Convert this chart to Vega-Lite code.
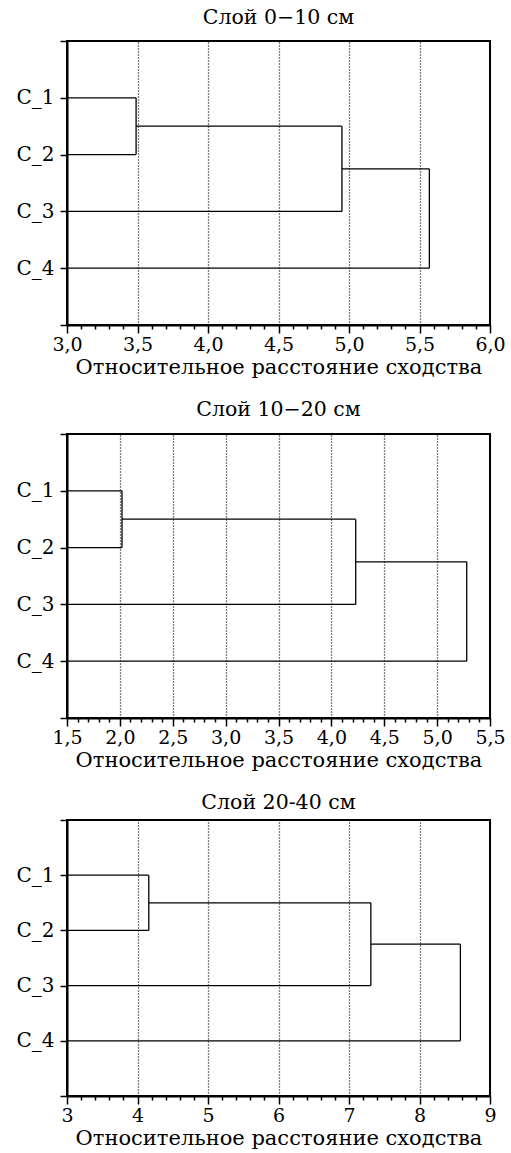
{
  "$schema": "https://vega.github.io/schema/vega-lite/v6.json",
  "padding": {"left": 14, "top": 6, "right": 0, "bottom": 0},
  "background": "white",
  "spacing": 20,
  "config": {
    "font": "DejaVu Serif",
    "view": {"stroke": "black", "strokeWidth": 2},
    "title": {"fontSize": 20.5, "fontWeight": "normal", "color": "black", "offset": 11, "font": "DejaVu Serif"},
    "axis": {
      "labelFont": "DejaVu Serif", "titleFont": "DejaVu Serif",
      "labelFontSize": 19, "titleFontSize": 21, "titleFontWeight": "normal",
      "labelColor": "black", "titleColor": "black",
      "tickColor": "black", "domainColor": "black", "domainWidth": 2, "tickWidth": 1.5
    },
    "axisY": {"labelFontSize": 20}
  },
  "vconcat": [
    {
      "title": {"text": "Слой 0−10 см", "offset": 12},
      "width": 423, "height": 284,
      "data": {"values": [
        {"x": 3, "x2": 3.49, "y": 1, "y2": 1},
        {"x": 3, "x2": 3.49, "y": 2, "y2": 2},
        {"x": 3.49, "x2": 3.49, "y": 1, "y2": 2},
        {"x": 3.49, "x2": 4.95, "y": 1.5, "y2": 1.5},
        {"x": 3, "x2": 4.95, "y": 3, "y2": 3},
        {"x": 4.95, "x2": 4.95, "y": 1.5, "y2": 3},
        {"x": 4.95, "x2": 5.57, "y": 2.25, "y2": 2.25},
        {"x": 3, "x2": 5.57, "y": 4, "y2": 4},
        {"x": 5.57, "x2": 5.57, "y": 2.25, "y2": 4}
      ]},
      "layer": [
        {
          "mark": {"type": "rule", "opacity": 0},
          "encoding": {
            "x": {"field": "x", "type": "quantitative",
              "scale": {"domain": [3, 6], "nice": false, "zero": false},
              "axis": {"values": [3.1, 3.2, 3.3, 3.4, 3.6, 3.7, 3.8, 3.9, 4.1, 4.2, 4.3, 4.4, 4.6, 4.7, 4.8, 4.9, 5.1, 5.2, 5.3, 5.4, 5.6, 5.7, 5.8, 5.9],
                "labels": false, "domain": false, "grid": false, "tickSize": 4, "title": null, "orient": "bottom"}}
          }
        },
        {
          "mark": {"type": "rule", "color": "black", "strokeWidth": 1.3},
          "encoding": {
            "x": {"field": "x", "type": "quantitative",
              "scale": {"domain": [3, 6], "nice": false, "zero": false},
              "axis": {"values": [3, 3.5, 4, 4.5, 5, 5.5, 6], "labelExpr": "replace(format(datum.value, '.1f'), '.', ',')",
                "grid": true, "gridColor": "black", "gridDash": [1, 2], "gridWidth": 1.3, "gridOpacity": 1,
                "tickSize": 8, "labelPadding": 2, "titlePadding": 2, "title": "Относительное расстояние сходства", "orient": "bottom", "labelFlush": false}},
            "x2": {"field": "x2"},
            "y": {"field": "y", "type": "quantitative",
              "scale": {"domain": [0, 5], "reverse": true, "nice": false, "zero": false},
              "axis": {"values": [0, 1, 2, 3, 4, 5], "labelExpr": "datum.value >= 1 && datum.value <= 4 ? 'C_' + datum.value : ''",
                "grid": false, "tickSize": 7, "labelPadding": 6, "title": null}},
            "y2": {"field": "y2"}
          }
        }
      ],
      "resolve": {"scale": {"x": "independent"}, "axis": {"x": "independent"}}
    },
    {
      "title": {"text": "Слой 10−20 см", "offset": 13},
      "width": 423, "height": 284,
      "data": {"values": [
        {"x": 1.5, "x2": 2.02, "y": 1, "y2": 1},
        {"x": 1.5, "x2": 2.02, "y": 2, "y2": 2},
        {"x": 2.02, "x2": 2.02, "y": 1, "y2": 2},
        {"x": 2.02, "x2": 4.23, "y": 1.5, "y2": 1.5},
        {"x": 1.5, "x2": 4.23, "y": 3, "y2": 3},
        {"x": 4.23, "x2": 4.23, "y": 1.5, "y2": 3},
        {"x": 4.23, "x2": 5.28, "y": 2.25, "y2": 2.25},
        {"x": 1.5, "x2": 5.28, "y": 4, "y2": 4},
        {"x": 5.28, "x2": 5.28, "y": 2.25, "y2": 4}
      ]},
      "layer": [
        {
          "mark": {"type": "rule", "opacity": 0},
          "encoding": {
            "x": {"field": "x", "type": "quantitative",
              "scale": {"domain": [1.5, 5.5], "nice": false, "zero": false},
              "axis": {"values": [1.6, 1.7, 1.8, 1.9, 2.1, 2.2, 2.3, 2.4, 2.6, 2.7, 2.8, 2.9, 3.1, 3.2, 3.3, 3.4, 3.6, 3.7, 3.8, 3.9, 4.1, 4.2, 4.3, 4.4, 4.6, 4.7, 4.8, 4.9, 5.1, 5.2, 5.3, 5.4],
                "labels": false, "domain": false, "grid": false, "tickSize": 4, "title": null, "orient": "bottom"}}
          }
        },
        {
          "mark": {"type": "rule", "color": "black", "strokeWidth": 1.3},
          "encoding": {
            "x": {"field": "x", "type": "quantitative",
              "scale": {"domain": [1.5, 5.5], "nice": false, "zero": false},
              "axis": {"values": [1.5, 2, 2.5, 3, 3.5, 4, 4.5, 5, 5.5], "labelExpr": "replace(format(datum.value, '.1f'), '.', ',')",
                "grid": true, "gridColor": "black", "gridDash": [1, 2], "gridWidth": 1.3, "gridOpacity": 1,
                "tickSize": 8, "labelPadding": 2, "titlePadding": 2, "title": "Относительное расстояние сходства", "orient": "bottom", "labelFlush": false}},
            "x2": {"field": "x2"},
            "y": {"field": "y", "type": "quantitative",
              "scale": {"domain": [0, 5], "reverse": true, "nice": false, "zero": false},
              "axis": {"values": [0, 1, 2, 3, 4, 5], "labelExpr": "datum.value >= 1 && datum.value <= 4 ? 'C_' + datum.value : ''",
                "grid": false, "tickSize": 7, "labelPadding": 6, "title": null}},
            "y2": {"field": "y2"}
          }
        }
      ],
      "resolve": {"scale": {"x": "independent"}, "axis": {"x": "independent"}}
    },
    {
      "title": {"text": "Слой 20-40 см", "offset": 6},
      "width": 423, "height": 276,
      "data": {"values": [
        {"x": 3, "x2": 4.16, "y": 1, "y2": 1},
        {"x": 3, "x2": 4.16, "y": 2, "y2": 2},
        {"x": 4.16, "x2": 4.16, "y": 1, "y2": 2},
        {"x": 4.16, "x2": 7.31, "y": 1.5, "y2": 1.5},
        {"x": 3, "x2": 7.31, "y": 3, "y2": 3},
        {"x": 7.31, "x2": 7.31, "y": 1.5, "y2": 3},
        {"x": 7.31, "x2": 8.58, "y": 2.25, "y2": 2.25},
        {"x": 3, "x2": 8.58, "y": 4, "y2": 4},
        {"x": 8.58, "x2": 8.58, "y": 2.25, "y2": 4}
      ]},
      "layer": [
        {
          "mark": {"type": "rule", "opacity": 0},
          "encoding": {
            "x": {"field": "x", "type": "quantitative",
              "scale": {"domain": [3, 9], "nice": false, "zero": false},
              "axis": {"values": [3.2, 3.4, 3.6, 3.8, 4.2, 4.4, 4.6, 4.8, 5.2, 5.4, 5.6, 5.8, 6.2, 6.4, 6.6, 6.8, 7.2, 7.4, 7.6, 7.8, 8.2, 8.4, 8.6, 8.8],
                "labels": false, "domain": false, "grid": false, "tickSize": 4, "title": null, "orient": "bottom"}}
          }
        },
        {
          "mark": {"type": "rule", "color": "black", "strokeWidth": 1.3},
          "encoding": {
            "x": {"field": "x", "type": "quantitative",
              "scale": {"domain": [3, 9], "nice": false, "zero": false},
              "axis": {"values": [3, 4, 5, 6, 7, 8, 9], "format": "d",
                "grid": true, "gridColor": "black", "gridDash": [1, 2], "gridWidth": 1.3, "gridOpacity": 1,
                "tickSize": 8, "labelPadding": 2, "titlePadding": 2, "title": "Относительное расстояние сходства", "orient": "bottom", "labelFlush": false}},
            "x2": {"field": "x2"},
            "y": {"field": "y", "type": "quantitative",
              "scale": {"domain": [0, 5], "reverse": true, "nice": false, "zero": false},
              "axis": {"values": [0, 1, 2, 3, 4, 5], "labelExpr": "datum.value >= 1 && datum.value <= 4 ? 'C_' + datum.value : ''",
                "grid": false, "tickSize": 7, "labelPadding": 6, "title": null}},
            "y2": {"field": "y2"}
          }
        }
      ],
      "resolve": {"scale": {"x": "independent"}, "axis": {"x": "independent"}}
    }
  ]
}
